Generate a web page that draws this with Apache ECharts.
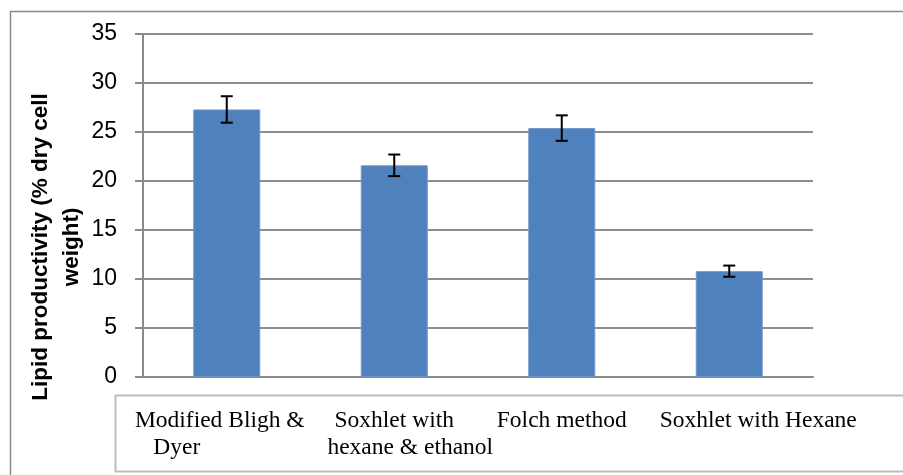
<!DOCTYPE html>
<html>
<head>
<meta charset="utf-8">
<script src="https://cdn.jsdelivr.net/npm/echarts@6/dist/echarts.min.js"></script>
<style>
  html, body { margin: 0; padding: 0; background: #fff; }
  #chart { width: 903px; height: 475px; }
</style>
</head>
<body>
<div id="chart"></div>
<script>
// ---- data ----
var categories = ['Modified Bligh &\nDyer', 'Soxhlet with\nhexane & ethanol', 'Folch method', 'Soxhlet with Hexane'];
var lipidValues = [27.3, 21.6, 25.4, 10.8];
var lipidErrors = [1.35, 1.1, 1.3, 0.57];
var yTicks = [0, 5, 10, 15, 20, 25, 30, 35];
var yTitleLines = ['Lipid productivity (% dry cell', 'weight)'];

// ---- layout config (per-line horizontal shift of category labels, px) ----
var labelShift = [[-7, -50], [0, 16], [0], [29]];

var chart = echarts.init(document.getElementById('chart'), null, { renderer: 'canvas' });

var rich = {};
var formatter = function (value, index) {
  var lines = value.split('\n');
  return lines.map(function (ln, j) {
    var key = 'c' + index + '_' + j;
    return '{' + key + '|' + ln + '}';
  }).join('\n');
};
labelShift.forEach(function (arr, i) {
  arr.forEach(function (s, j) {
    rich['c' + i + '_' + j] = {
      fontFamily: 'Liberation Serif',
      fontSize: 23.5,
      color: '#000',
      lineHeight: 27,
      padding: s >= 0 ? [0, 0, 0, 2 * s] : [0, -2 * s, 0, 0]
    };
  });
});

var errData = lipidValues.map(function (v, i) { return [i, v - lipidErrors[i], v + lipidErrors[i]]; });

var option = {
  animation: false,
  backgroundColor: '#fff',
  grid: { left: 143, right: 90, top: 34, bottom: 98, containLabel: false },
  xAxis: {
    type: 'category',
    data: categories,
    axisLine: { show: true, lineStyle: { color: '#8a8a8a', width: 2 } },
    axisTick: { show: false },
    axisLabel: {
      interval: 0,
      margin: 30,
      formatter: formatter,
      rich: rich
    },
    splitLine: { show: false }
  },
  yAxis: {
    type: 'value',
    min: yTicks[0],
    max: yTicks[yTicks.length - 1],
    interval: yTicks[1] - yTicks[0],
    axisLine: { show: true, lineStyle: { color: '#8a8a8a', width: 2 } },
    axisTick: { show: true, inside: false, length: 8, lineStyle: { color: '#8a8a8a', width: 2 } },
    axisLabel: {
      margin: 26,
      fontFamily: 'Liberation Sans',
      fontSize: 23,
      color: '#000'
    },
    splitLine: { show: true, lineStyle: { color: '#8e8e8e', width: 2 } }
  },
  graphic: [
    {
      type: 'rect',
      shape: { x: 10.5, y: 11.5, width: 1000, height: 600 },
      style: { fill: 'none', stroke: '#8a8a8a', lineWidth: 1.5 },
      silent: true, z: -10
    },
    {
      type: 'rect',
      shape: { x: 115.5, y: 395.5, width: 900, height: 76 },
      style: { fill: 'none', stroke: '#bdbdbd', lineWidth: 2 },
      silent: true, z: -10
    },
    {
      type: 'text',
      x: 41, y: 247,
      rotation: Math.PI / 2,
      style: {
        text: yTitleLines[0],
        fontFamily: 'Liberation Sans', fontWeight: 'bold', fontSize: 22.5,
        fill: '#000', align: 'center', verticalAlign: 'middle'
      }
    },
    {
      type: 'text',
      x: 72, y: 247,
      rotation: Math.PI / 2,
      style: {
        text: yTitleLines[1],
        fontFamily: 'Liberation Sans', fontWeight: 'bold', fontSize: 22.5,
        fill: '#000', align: 'center', verticalAlign: 'middle'
      }
    }
  ],
  series: [
    {
      type: 'bar',
      data: lipidValues,
      barWidth: 67,
      itemStyle: { color: '#4f81bd', borderColor: '#7096c8', borderWidth: 1 },
      z: 2
    },
    {
      type: 'custom',
      data: errData,
      z: 5,
      renderItem: function (params, api) {
        var lo = api.coord([api.value(0), api.value(1)]);
        var hi = api.coord([api.value(0), api.value(2)]);
        var x = lo[0];
        var hw = 6;
        var st = { stroke: '#000', lineWidth: 2 };
        return {
          type: 'group',
          children: [
            { type: 'line', shape: { x1: x, y1: lo[1], x2: x, y2: hi[1] }, style: st },
            { type: 'line', shape: { x1: x - hw, y1: lo[1], x2: x + hw, y2: lo[1] }, style: st },
            { type: 'line', shape: { x1: x - hw, y1: hi[1], x2: x + hw, y2: hi[1] }, style: st }
          ]
        };
      }
    }
  ]
};
chart.setOption(option);
</script>
</body>
</html>
